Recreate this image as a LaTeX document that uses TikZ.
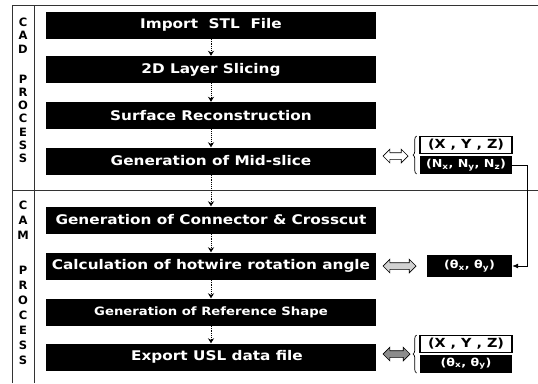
\documentclass[tikz,border=0pt]{standalone}
\usepackage{fontspec}
\setmainfont{DejaVu Sans}
\newfontfamily\etirefont{DejaVu Sans}[FakeStretch=1.15]
\usetikzlibrary{arrows.meta,shapes.arrows,decorations.pathreplacing}

\tikzset{
  cadre/.style={line width=0.6pt,black!80},
  etape/.style={fill=black,text=white,font=\etirefont\bfseries\fontsize{13.3}{15}\selectfont,
    minimum width=330,minimum height=27,inner sep=0},
  lettres/.style={font=\bfseries\fontsize{11.5}{#1}\selectfont,align=center,inner sep=0,anchor=north},
  suite/.style={densely dotted,line width=0.9pt,-{Stealth[length=5pt,width=6pt]}},
  echange/.style={double arrow,draw,line width=0.7pt,inner sep=3,
    double arrow head extend=3.5,minimum height=#1},
  blanc/.style={draw,line width=1.4pt,fill=white,font=\etirefont\bfseries\fontsize{12.5}{13}\selectfont,
    minimum width=92,minimum height=17,inner sep=0},
  noir/.style={fill=black,text=white,font=\etirefont\bfseries\fontsize{11}{12}\selectfont,
    minimum width=92,minimum height=18,inner sep=0},
  accolade/.style={decorate,decoration={brace,amplitude=3.5pt},line width=0.7pt},
}

\begin{document}
\begin{tikzpicture}[x=1pt,y=-1pt] % y vers le bas, comme sur l'image

\useasboundingbox (0,0) rectangle (538,383);

\draw[cadre] (12,383) -- (12,5) -- (538,5) (34,5) -- (34,383) (12,190) -- (538,190);

\node[lettres=13.2] (cad) at (23,18) {C\\A\\D\\[17pt]P\\R\\O\\C\\E\\S\\S};
\node[lettres=15] (cam) at (23,201) {C\\A\\M\\[20pt]P\\R\\O\\C\\E\\S\\S};

\node[etape] (stl) at (211,25) {Import~~STL~~File};
\node[etape] (slice) at (211,69.5) {2D Layer Slicing};
\node[etape] (surf) at (211,115.5) {Surface Reconstruction};
\node[etape] (mid) at (211,161) {Generation of Mid-slice};
\node[etape] (conn) at (211,220) {Generation of Connector \& Crosscut};
\node[etape] (angle) at (211,266) {Calculation of hotwire rotation angle};
\node[etape,font=\etirefont\bfseries\fontsize{11.5}{13}\selectfont] (ref) at (211,312) {Generation of Reference Shape};
\node[etape] (usl) at (211,357) {\hspace{12pt}Export USL data file};

\draw[suite] (stl) -- (slice);
\draw[suite] (slice) -- (surf);
\draw[suite] (surf) -- (mid);
\draw[suite] (mid) -- (conn);
\draw[suite] (conn) -- (angle);
\draw[suite] (angle) -- (ref);
\draw[suite] (ref) -- (usl);

% mid-slice : coordonnees et normales
\node[echange=25,fill=white] (e1) at (395.5,156) {};
\node[blanc] (xyz1) at (466,145) {(X , Y , Z)};
\node[noir] (norm) at (466,165) {(N\textsubscript{x}, N\textsubscript{y}, N\textsubscript{z})};
\draw[accolade] (416.5,174) -- (416.5,136);

% angle du fil chaud
\node[echange=33,fill=black!18] (e2) at (399.5,266) {};
\node[noir,minimum width=85,minimum height=22] (theta1) at (469.5,266) {(θ\textsubscript{x}, θ\textsubscript{y})};
\draw[line width=0.8pt,-{Latex[length=6pt,width=5pt]}] (norm.east) -- ++(15,0) |- (theta1.east);

% fichier USL
\node[echange=27,fill=black!45] (e3) at (396.5,354) {};
\node[blanc] (xyz2) at (466,344) {(X , Y , Z)};
\node[noir] (theta2) at (466,363.5) {(θ\textsubscript{x}, θ\textsubscript{y})};
\draw[accolade] (416.5,373) -- (416.5,335);

\end{tikzpicture}
\end{document}
